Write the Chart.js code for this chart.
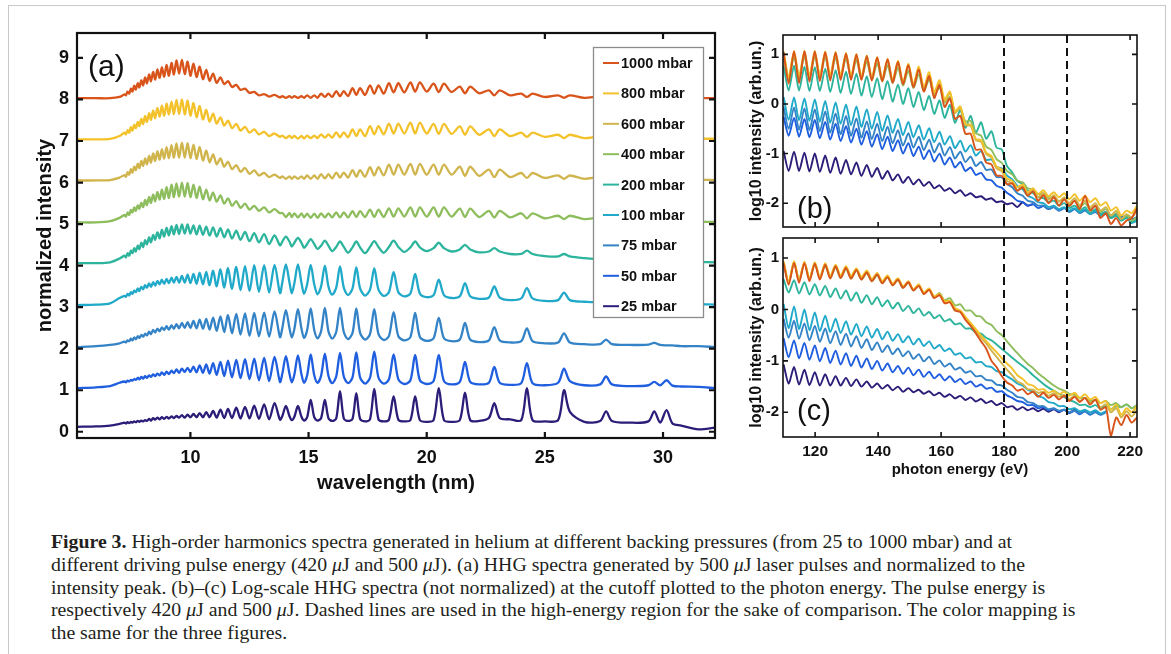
<!DOCTYPE html>
<html>
<head>
<meta charset="utf-8">
<script src="https://cdn.jsdelivr.net/npm/chart.js@4.4.1/dist/chart.umd.min.js"></script>
<style>
  html, body { margin: 0; padding: 0; background: #fff; }
  body { width: 1171px; height: 654px; position: relative; overflow: hidden; }
  #frame { position: absolute; left: 8px; top: 5px; width: 1158px; height: 720px;
           border: 1px solid #c9c9c9; box-sizing: border-box; }
  canvas { position: absolute; }
  #cA { left: 0; top: 0; }
  #cB { left: 720px; top: 0; }
  #cC { left: 720px; top: 225px; }
  #caption { position: absolute; left: 51px; top: 530px; font-family: "Liberation Serif", serif;
             font-size: 19.8px; line-height: 22.8px; color: #231f20; white-space: nowrap; }
</style>
</head>
<body>
<div id="frame"></div>
<canvas id="cA" width="740" height="500"></canvas>
<canvas id="cB" width="451" height="240"></canvas>
<canvas id="cC" width="451" height="270"></canvas>
<div id="caption">
<b>Figure 3.</b> High-order harmonics spectra generated in helium at different backing pressures (from 25 to 1000 mbar) and at<br>
different driving pulse energy (420 <i>μ</i>J and 500 <i>μ</i>J). (a) HHG spectra generated by 500 <i>μ</i>J laser pulses and normalized to the<br>
intensity peak. (b)–(c) Log-scale HHG spectra (not normalized) at the cutoff plotted to the photon energy. The pulse energy is<br>
respectively 420 <i>μ</i>J and 500 <i>μ</i>J. Dashed lines are used in the high-energy region for the sake of comparison. The color mapping is<br>
the same for the three figures.
</div>
<script>
// ---------- series labels and colours (same mapping in all three panels) ----------
const pressureLabels = ['1000 mbar', '800 mbar', '600 mbar', '400 mbar', '200 mbar', '100 mbar', '75 mbar', '50 mbar', '25 mbar'];
const seriesColors = ['#d9541a', '#f3c22a', '#d0b44c', '#8dbd5c', '#2db49c', '#20a9c8', '#3483c6', '#1f5edf', '#2b1d78'];

// ---------- panel (a): normalized spectra vs wavelength (curves offset by 1 per pressure) ----------
const wavelengthNm = [5.2,6.0,6.6,7.0,
  7.21,7.27,7.34,7.41,7.48,7.55,7.62,7.69,7.77,7.84,
  7.92,8.00,8.08,8.16,8.25,8.33,8.42,8.51,8.60,8.70,
  8.79,8.89,8.99,9.09,9.20,9.30,9.41,9.52,9.64,9.76,
  9.88,10.00,10.13,10.26,10.39,10.53,10.67,10.81,10.96,11.11,
  11.27,11.43,11.59,11.76,11.94,12.12,12.31,12.50,12.70,12.90,
  13.12,13.33,13.56,13.79,
  13.89,14.04,14.19,14.29, 14.40,14.55,14.70,14.81, 14.94,15.09,15.24,15.38,
  15.53,15.69,15.84,16.00, 16.17,16.33,16.49,16.67, 16.86,17.02,17.18,17.39,
  17.60,17.78,17.96,18.18, 18.40,18.60,18.80,19.05, 19.31,19.51,19.71,20.00,
  20.29,20.51,20.73,21.05, 21.40,21.62,21.84,22.22, 22.63,22.86,23.09,23.53,
  24.00,24.24,24.48,25.00, 25.56,25.81,26.06,26.67, 27.34,27.59,27.84,28.57,
  29.38,29.63,29.88,30.15,30.40,30.77,31.50,32.20];

const normInt1000 = [8.03,8.03,8.03,8.06,
  8.12,8.10,8.19,8.14,8.26,8.19,8.33,8.24,8.39,8.29,
  8.46,8.34,8.53,8.39,8.60,8.44,8.66,8.48,8.72,8.52,
  8.77,8.55,8.83,8.57,8.88,8.60,8.94,8.62,8.95,8.61,
  8.91,8.57,8.86,8.54,8.79,8.49,8.71,8.45,8.62,8.40,
  8.53,8.37,8.44,8.30,8.35,8.23,8.26,8.16,8.18,8.10,
  8.13,8.07,8.11,8.05,
  8.08,8.04,8.08,8.04, 8.08,8.04,8.08,8.04, 8.10,8.04,8.10,8.04,
  8.14,8.06,8.14,8.06, 8.20,8.08,8.20,8.08, 8.27,8.11,8.27,8.11,
  8.34,8.14,8.34,8.14, 8.39,8.17,8.39,8.17, 8.41,8.19,8.41,8.19,
  8.38,8.18,8.38,8.18, 8.31,8.15,8.31,8.15, 8.22,8.10,8.22,8.10,
  8.14,8.06,8.14,8.06, 8.10,8.04,8.10,8.04, 8.07,8.03,8.07,8.03,
  8.06,8.03,8.06,8.03,8.05,8.03,8.04,8.03];

const normInt800 = [7.04,7.04,7.05,7.12,
  7.20,7.16,7.26,7.20,7.33,7.25,7.39,7.31,7.46,7.36,
  7.53,7.41,7.60,7.46,7.67,7.51,7.73,7.55,7.79,7.59,
  7.85,7.61,7.90,7.64,7.95,7.65,7.99,7.65,8.00,7.64,
  7.97,7.61,7.91,7.57,7.84,7.52,7.75,7.47,7.66,7.42,
  7.57,7.37,7.49,7.31,7.41,7.25,7.34,7.20,7.28,7.16,
  7.22,7.12,7.18,7.10,
  7.13,7.07,7.13,7.07, 7.12,7.06,7.12,7.06, 7.13,7.07,7.13,7.07,
  7.16,7.08,7.16,7.08, 7.21,7.09,7.21,7.09, 7.28,7.12,7.28,7.12,
  7.36,7.16,7.36,7.16, 7.42,7.18,7.42,7.18, 7.44,7.18,7.44,7.18,
  7.41,7.17,7.41,7.17, 7.35,7.15,7.35,7.15, 7.28,7.12,7.28,7.12,
  7.20,7.10,7.20,7.10, 7.15,7.07,7.15,7.07, 7.11,7.05,7.11,7.05,
  7.10,7.06,7.09,7.06,7.08,7.05,7.06,7.05];

const normInt600 = [6.05,6.05,6.06,6.12,
  6.18,6.14,6.25,6.19,6.32,6.24,6.38,6.30,6.45,6.35,
  6.52,6.40,6.58,6.44,6.64,6.48,6.70,6.52,6.75,6.55,
  6.80,6.58,6.85,6.59,6.90,6.60,6.94,6.60,6.96,6.60,
  6.95,6.59,6.91,6.57,6.85,6.53,6.77,6.49,6.68,6.44,
  6.58,6.38,6.50,6.32,6.42,6.26,6.35,6.21,6.29,6.17,
  6.23,6.13,6.19,6.11,
  6.15,6.09,6.15,6.09, 6.15,6.09,6.15,6.09, 6.17,6.09,6.17,6.09,
  6.20,6.10,6.20,6.10, 6.24,6.12,6.24,6.12, 6.30,6.14,6.30,6.14,
  6.37,6.17,6.37,6.17, 6.43,6.19,6.43,6.19, 6.45,6.19,6.45,6.19,
  6.43,6.19,6.43,6.19, 6.38,6.16,6.38,6.16, 6.31,6.13,6.31,6.13,
  6.23,6.11,6.23,6.11, 6.17,6.09,6.17,6.09, 6.13,6.07,6.13,6.07,
  6.11,6.07,6.10,6.07,6.09,6.06,6.07,6.06];

const normInt400 = [5.04,5.04,5.07,5.15,
  5.22,5.18,5.28,5.22,5.34,5.28,5.40,5.32,5.45,5.37,
  5.51,5.41,5.58,5.46,5.65,5.51,5.71,5.55,5.77,5.59,
  5.83,5.61,5.89,5.63,5.95,5.65,5.98,5.66,6.00,5.66,
  5.99,5.65,5.95,5.63,5.90,5.60,5.83,5.57,5.76,5.54,
  5.69,5.49,5.62,5.44,5.55,5.39,5.49,5.35,5.44,5.32,
  5.40,5.28,5.36,5.26,
  5.27,5.17,5.27,5.17, 5.26,5.16,5.26,5.16, 5.25,5.15,5.25,5.15,
  5.26,5.16,5.26,5.16, 5.28,5.16,5.28,5.16, 5.31,5.17,5.31,5.17,
  5.35,5.17,5.35,5.17, 5.38,5.18,5.38,5.18, 5.40,5.18,5.40,5.18,
  5.40,5.18,5.40,5.18, 5.37,5.17,5.37,5.17, 5.32,5.16,5.32,5.16,
  5.26,5.14,5.26,5.14, 5.20,5.12,5.20,5.12, 5.15,5.09,5.15,5.09,
  5.13,5.09,5.11,5.08,5.09,5.07,5.06,5.05];

const normInt200 = [4.06,4.06,4.08,4.17,
  4.24,4.20,4.30,4.24,4.36,4.30,4.42,4.34,4.48,4.40,
  4.55,4.45,4.61,4.51,4.68,4.56,4.74,4.62,4.80,4.66,
  4.86,4.70,4.91,4.73,4.95,4.75,4.98,4.76,4.99,4.77,
  4.99,4.77,4.97,4.75,4.96,4.74,4.94,4.72,4.92,4.70,
  4.90,4.68,4.87,4.65,4.84,4.62,4.81,4.59,4.78,4.56,
  4.76,4.52,4.73,4.49,
  4.58,4.70,4.58,4.46, 4.55,4.67,4.55,4.43, 4.52,4.64,4.52,4.40,
  4.48,4.60,4.48,4.35, 4.45,4.58,4.45,4.31, 4.44,4.58,4.44,4.30,
  4.45,4.59,4.45,4.31, 4.45,4.60,4.45,4.33, 4.44,4.58,4.44,4.35,
  4.42,4.55,4.42,4.34, 4.39,4.50,4.39,4.32, 4.34,4.42,4.34,4.28,
  4.28,4.36,4.28,4.23, 4.22,4.28,4.22,4.18, 4.16,4.22,4.16,4.13,
  4.15,4.19,4.14,4.12,4.13,4.10,4.09,4.08];

const normInt100 = [3.05,3.06,3.09,3.22,
  3.27,3.25,3.32,3.28,3.36,3.32,3.40,3.36,3.45,3.39,
  3.49,3.43,3.53,3.47,3.57,3.49,3.60,3.52,3.63,3.55,
  3.66,3.56,3.68,3.58,3.71,3.59,3.73,3.59,3.75,3.59,
  3.78,3.58,3.80,3.56,3.83,3.55,3.85,3.53,3.88,3.50,
  3.91,3.47,3.94,3.44,3.97,3.41,3.99,3.39,4.01,3.37,
  4.01,3.35,4.02,3.34,
  3.60,4.03,3.60,3.33, 3.58,4.03,3.58,3.32, 3.55,4.02,3.55,3.31,
  3.50,4.00,3.50,3.30, 3.47,3.98,3.47,3.29, 3.45,3.96,3.45,3.28,
  3.42,3.93,3.42,3.27, 3.36,3.84,3.36,3.26, 3.33,3.80,3.33,3.24,
  3.29,3.66,3.29,3.22, 3.26,3.58,3.26,3.20, 3.23,3.50,3.23,3.17,
  3.21,3.46,3.21,3.15, 3.17,3.35,3.17,3.13, 3.13,3.25,3.13,3.10,
  3.13,3.18,3.12,3.10,3.11,3.08,3.07,3.06];

const normInt75 = [2.04,2.06,2.09,2.13,
  2.17,2.15,2.20,2.18,2.24,2.20,2.27,2.23,2.30,2.26,
  2.33,2.29,2.36,2.32,2.41,2.35,2.45,2.39,2.48,2.42,
  2.51,2.45,2.54,2.46,2.56,2.48,2.59,2.49,2.62,2.50,
  2.64,2.50,2.67,2.49,2.70,2.48,2.72,2.46,2.75,2.43,
  2.78,2.40,2.81,2.37,2.84,2.34,2.85,2.31,2.86,2.30,
  2.87,2.29,2.90,2.28,
  2.50,2.93,2.50,2.27, 2.48,2.95,2.48,2.26, 2.45,2.97,2.45,2.25,
  2.42,2.98,2.42,2.24, 2.40,2.98,2.40,2.23, 2.38,2.97,2.38,2.22,
  2.35,2.95,2.35,2.21, 2.30,2.88,2.30,2.20, 2.28,2.86,2.28,2.19,
  2.25,2.74,2.25,2.18, 2.22,2.62,2.22,2.16, 2.20,2.52,2.20,2.15,
  2.18,2.49,2.18,2.13, 2.15,2.37,2.15,2.11, 2.11,2.22,2.11,2.09,
  2.10,2.14,2.09,2.08,2.08,2.06,2.06,2.04];

const normInt50 = [1.05,1.07,1.10,1.18,
  1.21,1.19,1.23,1.21,1.25,1.23,1.27,1.25,1.30,1.26,
  1.32,1.28,1.34,1.30,1.36,1.32,1.38,1.34,1.40,1.36,
  1.43,1.37,1.45,1.39,1.47,1.41,1.50,1.42,1.52,1.44,
  1.54,1.44,1.57,1.43,1.60,1.42,1.62,1.40,1.65,1.37,
  1.68,1.34,1.71,1.31,1.73,1.29,1.75,1.27,1.76,1.24,
  1.78,1.22,1.80,1.20,
  1.40,1.82,1.40,1.19, 1.38,1.84,1.38,1.18, 1.36,1.86,1.36,1.18,
  1.35,1.88,1.35,1.17, 1.33,1.90,1.33,1.17, 1.31,1.91,1.31,1.16,
  1.30,1.93,1.30,1.16, 1.26,1.86,1.26,1.15, 1.24,1.85,1.24,1.15,
  1.22,1.85,1.22,1.14, 1.20,1.68,1.20,1.14, 1.18,1.56,1.18,1.13,
  1.17,1.65,1.17,1.12, 1.18,1.52,1.22,1.12, 1.14,1.33,1.14,1.10,
  1.12,1.20,1.12,1.24,1.11,1.09,1.08,1.05];

const normInt25 = [0.12,0.13,0.15,0.19,
  0.22,0.20,0.23,0.21,0.24,0.22,0.25,0.23,0.26,0.24,
  0.27,0.25,0.28,0.26,0.31,0.27,0.33,0.29,0.34,0.30,
  0.35,0.31,0.36,0.32,0.37,0.33,0.38,0.34,0.40,0.34,
  0.41,0.35,0.43,0.35,0.45,0.35,0.47,0.35,0.50,0.34,
  0.53,0.33,0.55,0.33,0.58,0.32,0.60,0.32,0.63,0.31,
  0.66,0.30,0.69,0.29,
  0.38,0.62,0.38,0.28, 0.36,0.62,0.36,0.27, 0.35,0.77,0.35,0.27,
  0.33,0.77,0.33,0.26, 0.32,0.98,0.32,0.26, 0.31,0.93,0.31,0.25,
  0.30,1.03,0.30,0.25, 0.29,0.85,0.29,0.25, 0.28,0.85,0.28,0.24,
  0.28,1.05,0.28,0.24, 0.28,0.94,0.28,0.26, 0.33,0.69,0.33,0.30,
  0.28,1.05,0.28,0.25, 0.28,1.00,0.48,0.24, 0.26,0.49,0.26,0.22,
  0.25,0.49,0.22,0.52,0.20,0.15,0.06,0.10];

const wavelengthTicks = [10, 15, 20, 25, 30];
const normTicks = [0, 1, 2, 3, 4, 5, 6, 7, 8, 9];

// ---------- panels (b) 420 uJ and (c) 500 uJ: log10 intensity vs photon energy ----------
const photonEv = [
  110.0,111.6,113.3,114.9,116.6,118.2,119.9,121.5,123.2,124.8,
  126.5,128.1,129.8,131.4,133.1,134.7,136.4,138.0,139.7,141.3,
  143.0,144.6,146.3,147.9,149.6,151.2,152.9,154.5,156.2,157.8,
  159.5,161.1,162.8,164.4,166.1,167.7,169.4,171.0,172.7,174.3,
  176.0,177.6,179.3,180.9,182.6,184.2,185.9,187.5,189.2,190.8,
  192.5,194.1,195.8,197.4,199.1,200.7,202.4,204.0,205.7,207.3,
  209.0,210.6,212.3,213.9,215.6,217.2,218.9,220.5,222.2];

const logB1000 = [
  1.04,.41,1.06,.42,1.06,.45,1.06,.46,1.05,.47,
  1.04,.48,1.02,.48,1.00,.48,.97,.47,.94,.46,
  .90,.43,.85,.40,.78,.34,.69,.25,.56,.12,
  .38,-.06,.11,-.30,-.24,-.60,-.60,-.92,-.92,-1.18,
  -1.22,-1.44,-1.45,-1.62,-1.60,-1.75,-1.68,-1.85,-1.76,-1.95,
  -1.84,-2.00,-1.88,-2.05,-1.92,-2.06,-1.95,-2.12,-1.85,-2.15,
  -2.05,-2.30,-2.20,-2.42,-2.30,-2.45,-2.35,-2.30,-2.10];
const logB800 = [
  1.06,.55,1.07,.56,1.07,.57,1.07,.57,1.06,.58,
  1.05,.57,1.03,.56,1.01,.55,.98,.53,.95,.51,
  .91,.48,.87,.44,.81,.40,.75,.34,.64,.24,
  .48,.09,.25,-.15,-.05,-.40,-.42,-.70,-.73,-.98,
  -1.05,-1.26,-1.32,-1.50,-1.55,-1.68,-1.62,-1.78,-1.70,-1.82,
  -1.74,-1.86,-1.78,-1.88,-1.80,-1.92,-1.82,-1.95,-1.85,-1.98,
  -1.90,-2.05,-1.98,-2.15,-2.08,-2.25,-2.15,-2.20,-2.05];
const logB600 = [
  1.02,.52,1.04,.53,1.04,.54,1.04,.55,1.03,.55,
  1.02,.55,1.00,.54,.98,.53,.95,.51,.92,.49,
  .88,.46,.84,.42,.78,.37,.71,.30,.60,.20,
  .44,.05,.22,-.18,-.08,-.43,-.44,-.73,-.76,-1.01,
  -1.08,-1.30,-1.36,-1.55,-1.60,-1.74,-1.66,-1.82,-1.75,-1.88,
  -1.80,-1.93,-1.84,-1.97,-1.88,-2.00,-1.90,-2.04,-1.95,-2.08,
  -2.00,-2.15,-2.08,-2.25,-2.15,-2.32,-2.22,-2.28,-2.15];
const logB400 = [
  .94,.50,.95,.51,.96,.52,.96,.53,.95,.53,
  .94,.53,.92,.52,.89,.50,.86,.48,.82,.45,
  .78,.42,.73,.37,.67,.32,.60,.26,.49,.17,
  .34,.03,.14,-.14,-.09,-.35,-.34,-.59,-.64,-.86,
  -.93,-1.11,-1.19,-1.35,-1.42,-1.55,-1.58,-1.70,-1.72,-1.82,
  -1.80,-1.90,-1.86,-1.96,-1.92,-2.02,-1.96,-2.08,-2.00,-2.12,
  -2.05,-2.18,-2.12,-2.25,-2.20,-2.32,-2.25,-2.35,-2.28];
const logB200 = [
  .77,.27,.77,.27,.75,.26,.74,.26,.71,.24,
  .68,.22,.65,.20,.61,.17,.56,.14,.52,.10,
  .46,.05,.39,.00,.32,-.06,.24,-.12,.16,-.20,
  .07,-.28,-.02,-.38,-.12,-.48,-.24,-.58,-.37,-.70,
  -.55,-.88,-.92,-1.25,-1.38,-1.55,-1.62,-1.75,-1.80,-1.88,
  -1.90,-1.98,-1.95,-2.05,-2.00,-2.10,-2.05,-2.15,-2.08,-2.20,
  -2.12,-2.22,-2.18,-2.30,-2.25,-2.35,-2.28,-2.38,-2.30];
const logB100 = [
  .14,-.32,.13,-.33,.11,-.34,.09,-.36,.06,-.38,
  .03,-.40,-.01,-.43,-.05,-.46,-.11,-.50,-.16,-.54,
  -.23,-.58,-.30,-.63,-.36,-.67,-.43,-.72,-.49,-.77,
  -.56,-.82,-.65,-.89,-.74,-.96,-.83,-1.04,-.95,-1.13,
  -1.12,-1.27,-1.30,-1.44,-1.52,-1.65,-1.72,-1.85,-1.90,-1.98,
  -2.00,-2.08,-2.05,-2.12,-2.08,-2.15,-2.10,-2.18,-2.12,-2.22,
  -2.15,-2.25,-2.20,-2.30,-2.25,-2.35,-2.30,-2.40,-2.35];
const logB75 = [
  -.06,-.50,-.07,-.52,-.09,-.53,-.11,-.55,-.15,-.58,
  -.19,-.61,-.24,-.64,-.29,-.68,-.35,-.71,-.40,-.75,
  -.46,-.79,-.53,-.84,-.59,-.88,-.66,-.93,-.72,-.98,
  -.79,-1.04,-.87,-1.10,-.96,-1.17,-1.06,-1.25,-1.17,-1.33,
  -1.32,-1.47,-1.48,-1.61,-1.68,-1.80,-1.85,-1.95,-1.98,-2.05,
  -2.05,-2.12,-2.08,-2.15,-2.10,-2.18,-2.12,-2.20,-2.15,-2.22,
  -2.18,-2.25,-2.22,-2.28,-2.25,-2.30,-2.28,-2.35,-2.30];
const logB50 = [
  -.26,-.64,-.28,-.66,-.30,-.67,-.32,-.69,-.36,-.72,
  -.40,-.75,-.45,-.78,-.50,-.82,-.55,-.86,-.61,-.91,
  -.66,-.95,-.73,-1.00,-.79,-1.05,-.86,-1.11,-.93,-1.16,
  -1.00,-1.22,-1.08,-1.28,-1.17,-1.35,-1.28,-1.43,-1.39,-1.52,
  -1.54,-1.65,-1.69,-1.79,-1.86,-1.95,-1.98,-2.05,-2.02,-2.10,
  -2.06,-2.12,-2.08,-2.15,-2.10,-2.16,-2.12,-2.18,-2.14,-2.20,
  -2.16,-2.22,-2.18,-2.26,-2.22,-2.28,-2.25,-2.32,-2.28];
const logB25 = [
  -.95,-1.35,-.96,-1.35,-.98,-1.36,-1.00,-1.37,-1.04,-1.39,
  -1.08,-1.41,-1.13,-1.42,-1.18,-1.45,-1.23,-1.47,-1.29,-1.51,
  -1.35,-1.54,-1.42,-1.59,-1.47,-1.62,-1.52,-1.65,-1.57,-1.70,
  -1.64,-1.75,-1.70,-1.80,-1.74,-1.85,-1.80,-1.88,-1.86,-1.93,
  -1.90,-1.98,-1.96,-2.02,-2.00,-2.08,-1.98,-2.05,-2.02,null,
  null,null,null,null,null,null,null,null,null,null,
  null,null,null,null,null,null,null,null,null];

const logC1000 = [
  .90,.48,.90,.52,.90,.55,.89,.58,.87,.60,
  .84,.61,.81,.60,.77,.58,.72,.55,.68,.51,
  .63,.47,.58,.42,.53,.37,.46,.30,.38,.22,
  .28,.12,.14,-.02,-.05,-.20,-.32,-.46,-.62,-.76,
  -1.00,-1.12,-1.30,-1.42,-1.48,-1.58,-1.55,-1.65,-1.60,-1.70,
  -1.62,-1.72,-1.66,-1.75,-1.68,-1.78,-1.70,-1.80,-1.72,-1.85,
  -1.75,-1.95,-1.90,-2.45,-2.10,-2.25,-2.05,-2.20,-2.10];
const logC800 = [
  .94,.54,.94,.57,.93,.60,.92,.63,.90,.65,
  .87,.66,.84,.65,.80,.63,.76,.59,.71,.55,
  .66,.50,.61,.45,.55,.39,.49,.33,.41,.25,
  .30,.16,.17,.03,-.02,-.14,-.26,-.38,-.51,-.61,
  -.73,-.83,-.95,-1.05,-1.15,-1.28,-1.35,-1.45,-1.48,-1.56,
  -1.55,-1.62,-1.58,-1.65,-1.60,-1.68,-1.62,-1.72,-1.65,-1.75,
  -1.70,-1.82,-1.78,-1.95,-1.85,-2.05,-1.92,-2.00,-1.88];
const logC600 = [
  .92,.52,.93,.56,.92,.59,.91,.62,.89,.64,
  .86,.65,.83,.64,.79,.62,.75,.58,.70,.54,
  .65,.49,.60,.44,.54,.38,.47,.32,.39,.24,
  .29,.14,.15,.01,-.04,-.17,-.28,-.41,-.55,-.66,
  -.80,-.92,-1.05,-1.17,-1.28,-1.40,-1.45,-1.55,-1.56,-1.62,
  -1.60,-1.68,-1.63,-1.70,-1.66,-1.74,-1.68,-1.78,-1.72,-1.82,
  -1.76,-1.90,-1.84,-2.00,-1.92,-2.10,-1.98,-2.08,-1.95];
const logC400 = [
  .90,.52,.91,.57,.91,.60,.88,.61,.85,.61,
  .82,.61,.79,.60,.76,.58,.71,.55,.67,.51,
  .63,.47,.57,.42,.52,.37,.46,.31,.39,.25,
  .32,.18,.22,.08,.10,-.02,-.02,-.12,-.14,-.25,
  -.30,-.42,-.50,-.62,-.74,-.85,-.96,-1.06,-1.14,-1.24,
  -1.32,-1.40,-1.48,-1.54,-1.58,-1.64,-1.66,-1.72,-1.72,-1.78,
  -1.76,-1.82,-1.78,-1.86,-1.82,-1.90,-1.84,-1.92,-1.86];
const logC200 = [
  .59,.33,.57,.31,.53,.29,.49,.27,.46,.24,
  .41,.21,.37,.17,.33,.13,.28,.10,.24,.06,
  .18,.02,.13,-.03,.07,-.07,.02,-.12,-.05,-.17,
  -.11,-.23,-.19,-.29,-.27,-.37,-.37,-.45,-.47,-.55,
  -.60,-.68,-.77,-.85,-.94,-1.02,-1.10,-1.18,-1.28,-1.36,
  -1.45,-1.52,-1.58,-1.64,-1.70,-1.76,-1.80,-1.86,-1.85,-1.90,
  -1.86,-1.92,-1.88,-1.94,-1.88,-1.90,-1.85,-1.92,-1.86];
const logC100 = [
  .11,-.36,.06,-.38,.00,-.40,-.06,-.42,-.12,-.44,
  -.18,-.46,-.23,-.49,-.28,-.52,-.33,-.55,-.38,-.58,
  -.43,-.61,-.48,-.64,-.52,-.68,-.57,-.71,-.62,-.76,
  -.69,-.81,-.76,-.88,-.85,-.95,-.93,-1.03,-1.02,-1.10,
  -1.12,-1.20,-1.22,-1.30,-1.36,-1.44,-1.48,-1.56,-1.60,-1.68,
  -1.72,-1.80,-1.82,-1.88,-1.88,-1.94,-1.92,-1.98,-1.95,-2.00,
  -1.96,-2.02,-1.98,null,null,null,null,null,null];
const logC75 = [
  -.18,-.55,-.22,-.57,-.27,-.60,-.32,-.63,-.37,-.66,
  -.42,-.69,-.47,-.72,-.52,-.75,-.58,-.79,-.64,-.83,
  -.70,-.87,-.76,-.91,-.81,-.96,-.87,-1.01,-.92,-1.06,
  -.99,-1.11,-1.05,-1.17,-1.13,-1.23,-1.20,-1.30,-1.29,-1.37,
  -1.38,-1.46,-1.48,-1.56,-1.62,-1.70,-1.72,-1.80,-1.82,-1.88,
  -1.88,-1.94,-1.92,-1.97,-1.95,-2.00,-1.97,-2.02,-1.98,-2.04,
  -2.00,-2.05,-2.00,null,null,null,null,null,null];
const logC50 = [
  -.56,-.93,-.60,-.95,-.65,-.98,-.70,-1.01,-.75,-1.04,
  -.80,-1.07,-.85,-1.10,-.90,-1.13,-.95,-1.16,-1.00,-1.19,
  -1.05,-1.22,-1.10,-1.25,-1.13,-1.28,-1.17,-1.31,-1.21,-1.34,
  -1.26,-1.38,-1.30,-1.41,-1.35,-1.45,-1.40,-1.50,-1.46,-1.54,
  -1.52,-1.60,-1.59,-1.67,-1.72,-1.78,-1.80,-1.86,-1.86,-1.92,
  -1.90,-1.96,-1.93,-1.98,-1.95,-2.02,-1.97,-2.04,-1.98,-2.05,
  -1.98,-2.04,-1.98,null,null,null,null,null,null];
const logC25 = [
  -1.07,-1.44,-1.12,-1.46,-1.17,-1.47,-1.22,-1.48,-1.26,-1.48,
  -1.30,-1.48,-1.33,-1.49,-1.36,-1.50,-1.40,-1.52,-1.44,-1.54,
  -1.47,-1.57,-1.50,-1.60,-1.53,-1.61,-1.56,-1.64,-1.59,-1.67,
  -1.62,-1.70,-1.65,-1.73,-1.68,-1.76,-1.71,-1.79,-1.74,-1.82,
  -1.78,-1.86,-1.82,-1.90,-1.88,-1.95,-1.90,-1.96,-1.92,-1.98,
  -1.93,-1.99,-1.94,-2.00,-1.95,-2.01,-1.95,-2.02,-1.96,null,
  null,null,null,null,null,null,null,null,null];

const energyTicks = [120, 140, 160, 180, 200, 220];
const logTicks = [-2, -1, 0, 1];
const cutoffMarkersEv = [180, 200];

// ---------- shared helpers ----------
Chart.defaults.font.family = '"Liberation Sans", Arial, sans-serif';
Chart.defaults.color = '#111';

const fixedTicks = values => scale => { scale.ticks = values.map(v => ({ value: v })); };

function buildDatasets(xs, series, width, tension) {
  return series.map((ys, k) => ({
    label: pressureLabels[k],
    data: xs.map((x, i) => ({ x, y: ys[i] })),
    borderColor: seriesColors[k],
    backgroundColor: seriesColors[k],
    borderWidth: width,
    pointRadius: 0,
    tension: tension,
    fill: false,
    spanGaps: false
  }));
}

// frame around the plot area with inward-pointing tick marks on all four sides
const boxTicks = {
  id: 'boxTicks',
  afterDatasetsDraw(chart, args, opts) {
    const { ctx, chartArea: a } = chart;
    const x = chart.scales.x, y = chart.scales.y;
    ctx.save();
    ctx.strokeStyle = '#111';
    ctx.lineWidth = opts.width;
    ctx.strokeRect(a.left, a.top, a.right - a.left, a.bottom - a.top);
    ctx.beginPath();
    const L = opts.len;
    x.ticks.forEach(t => {
      const p = x.getPixelForValue(t.value);
      if (p <= a.left + 1 || p >= a.right - 1) return;
      if (opts.top) { ctx.moveTo(p, a.top); ctx.lineTo(p, a.top + L); }
      if (opts.bottom) { ctx.moveTo(p, a.bottom); ctx.lineTo(p, a.bottom - L); }
    });
    y.ticks.forEach(t => {
      const p = y.getPixelForValue(t.value);
      ctx.moveTo(a.left, p); ctx.lineTo(a.left + L, p);
      ctx.moveTo(a.right, p); ctx.lineTo(a.right - L, p);
    });
    ctx.stroke();
    ctx.restore();
  }
};

// panel letter inside the plot area
const panelTag = {
  id: 'panelTag',
  afterDraw(chart, args, opts) {
    const ctx = chart.ctx;
    ctx.save();
    ctx.fillStyle = '#111';
    ctx.font = opts.size + 'px "Liberation Sans", Arial, sans-serif';
    ctx.textBaseline = 'middle';
    ctx.textAlign = 'left';
    ctx.fillText(opts.text, opts.x, opts.y);
    ctx.restore();
  }
};

// vertical dashed reference lines at fixed photon energies
const cutoffLines = {
  id: 'cutoffLines',
  afterDatasetsDraw(chart) {
    const { ctx, chartArea: a } = chart;
    const x = chart.scales.x;
    ctx.save();
    ctx.strokeStyle = '#111';
    ctx.lineWidth = 2;
    ctx.setLineDash([8, 5]);
    cutoffMarkersEv.forEach(v => {
      const p = Math.round(x.getPixelForValue(v));
      ctx.beginPath();
      ctx.moveTo(p, a.top);
      ctx.lineTo(p, a.bottom);
      ctx.stroke();
    });
    ctx.restore();
  }
};

// boxed legend in the upper right of panel (a)
const boxedLegend = {
  id: 'boxedLegend',
  afterDraw(chart) {
    const ctx = chart.ctx;
    const left = 593, top = 47, w = 110, h = 270;
    ctx.save();
    ctx.fillStyle = '#fff';
    ctx.fillRect(left, top, w, h);
    ctx.strokeStyle = '#8c8c8c';
    ctx.lineWidth = 1.3;
    ctx.strokeRect(left + 0.5, top + 0.5, w, h);
    ctx.font = 'bold 14.5px "Liberation Sans", Arial, sans-serif';
    ctx.textBaseline = 'middle';
    ctx.textAlign = 'left';
    chart.data.datasets.forEach((ds, i) => {
      const yy = 63 + i * 30.4;
      ctx.strokeStyle = ds.borderColor;
      ctx.lineWidth = 2;
      ctx.beginPath();
      ctx.moveTo(603, yy);
      ctx.lineTo(619, yy);
      ctx.stroke();
      ctx.fillStyle = '#111';
      ctx.fillText(ds.label, 621, yy + 1);
    });
    ctx.restore();
  }
};

// ---------- panel (a) ----------
new Chart(document.getElementById('cA'), {
  type: 'line',
  data: { datasets: buildDatasets(wavelengthNm,
    [normInt1000, normInt800, normInt600, normInt400, normInt200, normInt100, normInt75, normInt50, normInt25], 2.3, 0.3) },
  options: {
    responsive: false, devicePixelRatio: 1, animation: false,
    layout: { padding: { top: 33, right: 25, left: 0, bottom: 0 } },
    plugins: {
      legend: { display: false }, tooltip: { enabled: false },
      boxTicks: { width: 2.2, len: 6, top: true, bottom: true },
      panelTag: { text: '(a)', x: 88, y: 68, size: 30 }
    },
    scales: {
      x: {
        type: 'linear', min: 5.2, max: 32.2,
        afterBuildTicks: fixedTicks(wavelengthTicks),
        afterFit: s => { s.height = 62; },
        grid: { display: false, drawTicks: false },
        border: { display: false },
        ticks: { padding: 9, font: { size: 18, weight: 'bold' }, color: '#111' },
        title: { display: true, text: 'wavelength (nm)', color: '#111',
                 font: { size: 20, weight: 'bold' }, padding: { top: 0, bottom: 5 } }
      },
      y: {
        type: 'linear', min: -0.15, max: 9.6,
        afterBuildTicks: fixedTicks(normTicks),
        afterFit: s => { s.width = 77; },
        grid: { display: false, drawTicks: false },
        border: { display: false },
        ticks: { padding: 8, font: { size: 18, weight: 'bold' }, color: '#111' },
        title: { display: true, text: 'normalized intensity', color: '#111',
                 font: { size: 20, weight: 'bold' }, padding: { top: 33, bottom: 0 } }
      }
    }
  },
  plugins: [boxTicks, panelTag, boxedLegend]
});

// ---------- panel (b) ----------
new Chart(document.getElementById('cB'), {
  type: 'line',
  data: { datasets: buildDatasets(photonEv,
    [logB1000, logB800, logB600, logB400, logB200, logB100, logB75, logB50, logB25], 1.9, 0.25) },
  options: {
    responsive: false, devicePixelRatio: 1, animation: false,
    layout: { padding: { top: 35, right: 34, left: 0, bottom: 0 } },
    plugins: {
      legend: { display: false }, tooltip: { enabled: false },
      boxTicks: { width: 1.6, len: 5, top: true, bottom: true },
      panelTag: { text: '(b)', x: 77, y: 210, size: 29 }
    },
    scales: {
      x: {
        type: 'linear', min: 109.8, max: 222.2,
        afterBuildTicks: fixedTicks(energyTicks),
        afterFit: s => { s.height = 5; },
        grid: { display: false, drawTicks: false },
        border: { display: false },
        ticks: { display: false }
      },
      y: {
        type: 'linear', min: -2.48, max: 1.39,
        afterBuildTicks: fixedTicks(logTicks),
        afterFit: s => { s.width = 63; },
        grid: { display: false, drawTicks: false },
        border: { display: false },
        ticks: { padding: 4, font: { size: 15, weight: 'bold' }, color: '#111' },
        title: { display: true, text: 'log10 intensity (arb.un.)', color: '#111',
                 font: { size: 16, weight: 'bold' }, padding: { top: 27, bottom: 0 } }
      }
    }
  },
  plugins: [cutoffLines, boxTicks, panelTag]
});

// ---------- panel (c) ----------
new Chart(document.getElementById('cC'), {
  type: 'line',
  data: { datasets: buildDatasets(photonEv,
    [logC1000, logC800, logC600, logC400, logC200, logC100, logC75, logC50, logC25], 1.9, 0.25) },
  options: {
    responsive: false, devicePixelRatio: 1, animation: false,
    layout: { padding: { top: 10, right: 34, left: 0, bottom: 0 } },
    plugins: {
      legend: { display: false }, tooltip: { enabled: false },
      boxTicks: { width: 1.6, len: 5, top: true, bottom: true },
      panelTag: { text: '(c)', x: 77, y: 187, size: 29 }
    },
    scales: {
      x: {
        type: 'linear', min: 109.8, max: 222.2,
        afterBuildTicks: fixedTicks(energyTicks),
        afterFit: s => { s.height = 58; },
        grid: { display: false, drawTicks: false },
        border: { display: false },
        ticks: { padding: 5, font: { size: 15.5, weight: 'bold' }, color: '#111' },
        title: { display: true, text: 'photon energy (eV)', color: '#111',
                 font: { size: 15, weight: 'bold' }, padding: { top: 0, bottom: 16 } }
      },
      y: {
        type: 'linear', min: -2.48, max: 1.39,
        afterBuildTicks: fixedTicks(logTicks),
        afterFit: s => { s.width = 63; },
        grid: { display: false, drawTicks: false },
        border: { display: false },
        ticks: { padding: 4, font: { size: 15, weight: 'bold' }, color: '#111' },
        title: { display: true, text: 'log10 intensity (arb.un.)', color: '#111',
                 font: { size: 16, weight: 'bold' }, padding: { top: 27, bottom: 0 } }
      }
    }
  },
  plugins: [cutoffLines, boxTicks, panelTag]
});
</script>
</body>
</html>
